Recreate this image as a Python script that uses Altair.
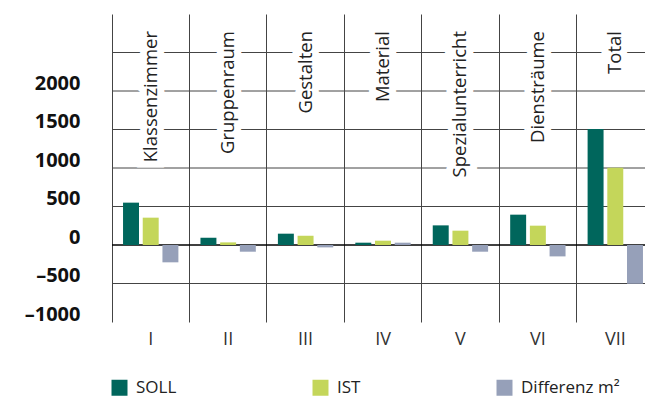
import altair as alt
import pandas as pd

# ---- data ----
roman = ["I", "II", "III", "IV", "V", "VI", "VII"]
names = ["Klassenzimmer", "Gruppenraum", "Gestalten", "Material",
         "Spezialunterricht", "Diensträume", "Total"]
soll = [550, 95, 147, 30, 255, 394, 1506]
ist = [355, 34, 120, 56, 186, 251, 1004]
diff = [-225, -87, -31, 30, -87, -148, -503]
series = ["SOLL", "IST", "Differenz m²"]
colors = ["#00665C", "#C4D65A", "#96A0B9"]
y_label_values = [-1000, -500, 0, 500, 1000, 1500, 2000]
grid_values = [-500, 0, 500, 1000, 1500, 2000, 2500]

rows = []
for i, r in enumerate(roman):
    for s, vals in zip(series, [soll, ist, diff]):
        rows.append({"cat": r, "series": s, "value": vals[i]})
bars_df = pd.DataFrame(rows)
names_df = pd.DataFrame({"cat": roman, "name": names})
grid_df = pd.DataFrame({"v": grid_values})

FONT = "Open Sans"
yscale = alt.Scale(domain=[-1000, 3000], nice=False, zero=False)
xscale = alt.Scale(domain=roman, paddingInner=0, paddingOuter=0, range=[0, 542])

x_axis = alt.Axis(title=None, labelFontSize=18, labelColor="#333333",
                  labelFont=FONT, labelPadding=8, ticks=False, domain=False,
                  grid=True, gridColor="#444444", gridWidth=1,
                  bandPosition=0, labelAngle=0)
y_axis = alt.Axis(title=None, values=y_label_values, labelFontSize=20,
                  labelFontWeight="bold", labelColor="#111111", labelFont=FONT,
                  labelPadding=32, ticks=False, domain=False, grid=False,
                  labelOffset=-8,
                  labelExpr="(datum.value < 0 ? '–' : '') + abs(datum.value)")

grid = alt.Chart(grid_df).mark_rule().encode(
    y=alt.Y("v:Q", scale=yscale, axis=y_axis),
    strokeWidth=alt.condition("datum.v == 0", alt.value(1.6), alt.value(1)),
    color=alt.condition("datum.v == 0", alt.value("#000000"), alt.value("#444444")),
)

halo = alt.Chart(names_df).mark_text(
    angle=270, align="right", baseline="middle", fontSize=18.5, font=FONT,
    fill="white", stroke="white", strokeWidth=14, strokeJoin="miter"
).encode(
    x=alt.X("cat:N", scale=xscale, axis=x_axis, sort=roman),
    y=alt.value(17),
    text="name:N",
)

labels = alt.Chart(names_df).mark_text(
    angle=270, align="right", baseline="middle", fontSize=18.5, font=FONT,
    color="#222222"
).encode(
    x=alt.X("cat:N", scale=xscale, sort=roman),
    y=alt.value(17),
    text="name:N",
)

bars = alt.Chart(bars_df).mark_bar().encode(
    x=alt.X("cat:N", scale=xscale, sort=roman),
    xOffset=alt.XOffset("series:N", sort=series,
                        scale=alt.Scale(domain=series, paddingInner=0.19, paddingOuter=0.56)),
    y=alt.Y("value:Q", scale=yscale),
    color=alt.Color("series:N", sort=series,
                    scale=alt.Scale(domain=series, range=colors),
                    legend=alt.Legend(title=None, orient="none", legendX=-1, legendY=365,
                                      direction="horizontal", symbolType="square",
                                      symbolSize=256, symbolStrokeWidth=0,
                                      labelFontSize=17, labelFont=FONT,
                                      labelColor="#222222", columnPadding=135,
                                      labelOffset=8)),
)

chart = alt.layer(grid, halo, labels, bars).properties(
    width=533, height=308,
    autosize=alt.AutoSizeParams(type="none"),
    padding={"left": 104, "top": 6, "right": 0, "bottom": 75},
).configure_view(stroke=None)

chart.save("out.html", embed_options={"renderer": "svg", "actions": False})
